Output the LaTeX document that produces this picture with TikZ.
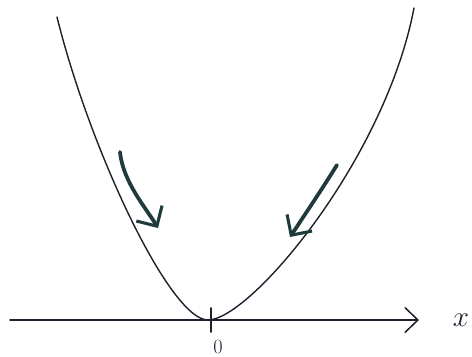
\documentclass[tikz,border=0pt]{standalone}
\usetikzlibrary{arrows.meta}
\definecolor{ink}{RGB}{35,30,45}
\definecolor{pen}{RGB}{30,58,58}
\begin{document}
\begin{tikzpicture}[x=0.03cm,y=-0.03cm,
  curve/.style={line width=1.2pt,color=ink,line cap=round},
  axis/.style={line width=1.4pt,color=ink,line cap=round,
    -{Straight Barb[length=3.9mm,width=7.5mm,line width=1.3pt]}},
  flow/.style={line width=3.2pt,color=pen,line cap=round,
    -{Straight Barb[length=4.5mm,width=9mm,line width=2.6pt]}},
  lbl/.style={inner sep=0pt,text=ink}]
\useasboundingbox (0,0) rectangle (472,356);
% axis with tick at the origin
\coordinate (ax0) at (10,320); \coordinate (ax1) at (419,320);
\coordinate (t0) at (211,308); \coordinate (t1) at (211,332);
\draw[axis] (ax0) -- (ax1);
\draw[curve,line width=1.4pt] (t0) -- (t1);
\node[lbl,font=\LARGE] (zero) at (218,347) {$0$};
\node[lbl,font=\Huge] (xlab) at (461,320) {$x$};
% the parabola
\coordinate (pl) at (57,17); \coordinate (pv) at (208,320); \coordinate (pr) at (414,8);
\draw[curve] (pl) .. controls (90,150) and (170,320) .. (pv)
  .. controls (250,320) and (385,160) .. (pr);
% descent arrows
\coordinate (l0) at (120,152); \coordinate (l1) at (158,228);
\coordinate (r0) at (337,165); \coordinate (r1) at (290,237);
\draw[flow] (l0) .. controls (123,182) and (146,208) .. (l1);
\draw[flow] (r0) .. controls (324,186) and (304,216) .. (r1);
\end{tikzpicture}
\end{document}
